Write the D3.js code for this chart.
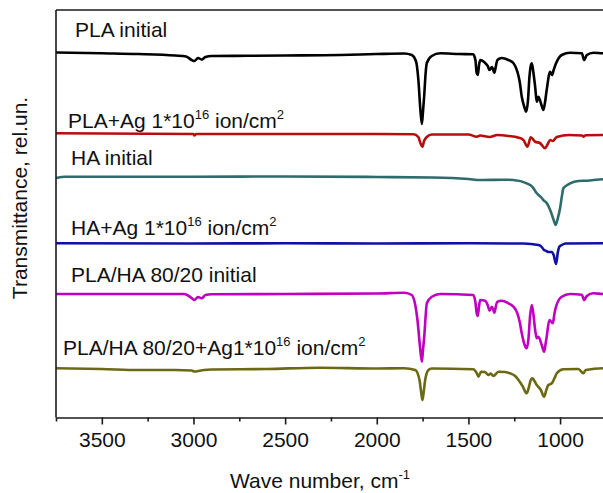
<!DOCTYPE html>
<html>
<head>
<meta charset="utf-8">
<script src="https://cdn.jsdelivr.net/npm/d3@7"></script>
<style>
  html, body { margin: 0; padding: 0; background: #fff; }
  svg { display: block; font-family: "Liberation Sans", Arial, sans-serif; }
</style>
</head>
<body>
<svg id="chart" width="603" height="493"></svg>
<script>
// ---------- data (wave number, cm^-1 ; transmittance, rel.un., offset-stacked) ----------
const seriesNames = [
  "PLA initial",
  "PLA+Ag 1*10^16 ion/cm^2",
  "HA initial",
  "HA+Ag 1*10^16 ion/cm^2",
  "PLA/HA 80/20 initial",
  "PLA/HA 80/20+Ag1*10^16 ion/cm^2"
];
const seriesColors = ["#000000", "#b80d0d", "#2e6b6b", "#1010a6", "#c000c0", "#6b6a12"];

const plaInitial = [
  [3750,8.957],[3500,8.937],[3300,8.920],[3100,8.883],[3040,8.859],[3010,8.773],[2995,8.748],
  [2975,8.822],[2955,8.785],[2935,8.847],[2900,8.871],[2700,8.876],[2500,8.883],[2200,8.896],
  [2000,8.920],[1850,8.933],[1809,8.896],[1785,8.724],[1773,8.282],[1762,7.546],[1754,7.202],
  [1748,7.497],[1741,7.914],[1733,8.478],[1727,8.699],[1700,8.871],[1654,8.937],[1550,8.920],
  [1474,8.913],[1462,8.773],[1455,8.454],[1449,8.405],[1442,8.650],[1436,8.773],[1414,8.724],
  [1395,8.626],[1385,8.528],[1372,8.601],[1358,8.461],[1350,8.626],[1342,8.773],[1318,8.822],
  [1282,8.773],[1255,8.699],[1233,8.486],[1220,8.233],[1209,7.872],[1195,7.620],[1185,7.504],
  [1175,7.791],[1167,8.363],[1160,8.626],[1154,8.692],[1146,8.479],[1136,8.118],[1127,7.750],
  [1122,7.816],[1118,7.872],[1105,7.718],[1091,7.546],[1082,7.742],[1073,8.037],[1054,8.486],
  [1044,8.405],[1035,8.528],[1022,8.692],[991,8.896],[945,8.952],[881,8.937],[869,8.773],
  [854,8.896],[818,8.952],[765,8.937],[700,8.937]
];
const plaAg = [
  [3750,6.974],[3000,6.957],[2995,6.920],[2985,6.957],[2500,6.957],[2000,6.957],[1800,6.950],
  [1773,6.883],[1762,6.736],[1751,6.645],[1742,6.785],[1727,6.883],[1700,6.945],[1500,6.945],
  [1454,6.891],[1436,6.920],[1385,6.883],[1342,6.933],[1280,6.908],[1230,6.871],[1200,6.810],
  [1178,6.645],[1160,6.876],[1136,6.767],[1110,6.736],[1082,6.606],[1070,6.687],[1054,6.810],
  [1040,6.785],[1018,6.883],[950,6.933],[880,6.920],[873,6.891],[860,6.925],[765,6.933],[700,6.933]
];
const haInitial = [
  [3750,5.877],[3700,5.909],[3000,5.909],[2500,5.914],[2000,5.902],[1700,5.890],[1500,5.853],
  [1436,5.828],[1300,5.836],[1255,5.828],[1182,5.747],[1150,5.656],[1127,5.502],[1100,5.387],
  [1091,5.337],[1073,5.264],[1050,5.043],[1035,4.847],[1024,4.724],[1012,4.896],[1000,5.134],
  [990,5.436],[982,5.625],[960,5.706],[945,5.747],[900,5.804],[854,5.811],[765,5.845],[700,5.845]
];
const haAg = [
  [3750,4.275],[3000,4.270],[2500,4.275],[2000,4.270],[1500,4.275],[1200,4.270],[1118,4.233],
  [1100,4.184],[1091,4.128],[1075,4.086],[1064,4.061],[1045,4.061],[1035,3.988],[1022,3.767],
  [1012,4.061],[1004,4.191],[991,4.233],[970,4.270],[765,4.275],[700,4.275]
];
const plaHaInitial = [
  [3750,3.031],[3300,3.031],[3050,3.031],[3010,2.933],[2995,2.883],[2975,2.957],[2955,2.925],
  [2935,3.006],[2900,3.023],[2500,3.031],[2000,3.043],[1850,3.063],[1809,3.006],[1790,2.761],
  [1778,2.393],[1765,1.779],[1754,1.370],[1748,1.656],[1741,1.983],[1733,2.515],[1727,2.802],
  [1700,2.964],[1654,3.031],[1474,3.006],[1462,2.834],[1455,2.564],[1449,2.491],[1442,2.736],
  [1436,2.883],[1409,2.866],[1395,2.761],[1385,2.621],[1372,2.719],[1358,2.572],[1350,2.736],
  [1342,2.842],[1318,2.866],[1282,2.802],[1255,2.719],[1233,2.557],[1220,2.344],[1209,2.066],
  [1195,1.804],[1182,1.698],[1172,1.951],[1164,2.474],[1154,2.761],[1145,2.515],[1136,2.147],
  [1127,1.944],[1118,1.983],[1100,1.779],[1087,1.615],[1080,1.779],[1073,1.983],[1058,2.393],
  [1040,2.312],[1030,2.564],[1022,2.719],[991,2.964],[945,3.031],[881,3.014],[869,2.883],
  [854,2.982],[818,3.048],[765,3.031],[700,3.031]
];
const plaHaAg = [
  [3750,1.207],[3500,1.190],[3300,1.166],[3100,1.166],[3010,1.153],[2995,1.129],[2960,1.153],
  [2900,1.178],[2600,1.190],[2313,1.222],[2000,1.202],[1850,1.207],[1790,1.166],[1767,0.920],
  [1758,0.626],[1751,0.429],[1744,0.626],[1736,0.920],[1718,1.166],[1700,1.202],[1474,1.183],
  [1455,1.092],[1445,1.001],[1431,1.124],[1410,1.117],[1391,1.043],[1378,1.080],[1364,1.018],
  [1336,1.124],[1300,1.117],[1273,1.085],[1245,1.018],[1227,0.920],[1205,0.773],[1182,0.594],
  [1170,0.748],[1160,0.920],[1151,0.962],[1140,0.896],[1127,0.798],[1105,0.675],[1087,0.510],
  [1075,0.675],[1064,0.798],[1045,0.839],[1030,0.969],[1018,1.085],[982,1.183],[900,1.190],
  [873,1.085],[860,1.166],[765,1.207],[700,1.207]
];
const seriesValues = [plaInitial, plaAg, haInitial, haAg, plaHaInitial, plaHaAg];

const majorTicks = [3500, 3000, 2500, 2000, 1500, 1000];
const minorTicks = [3750, 3250, 2750, 2250, 1750, 1250, 750];
const xTitle = "Wave number, cm";
const xTitleSup = "-1";
const yTitle = "Transmittance, rel.un.";

// ---------- drawing ----------
const svg = d3.select("#chart");
const padLeft = 56, padTop = 10, padBottom = 417.5;
const x = d3.scaleLinear().domain([3750, 400]).range([padLeft, padLeft + 3350 * 0.1833]);
const y = d3.scaleLinear().domain([0, 10]).range([padBottom, padTop]);

svg.append("defs").append("clipPath").attr("id", "plotclip")
  .append("rect").attr("x", padLeft).attr("y", padTop).attr("width", 700).attr("height", padBottom - padTop);

const line = d3.line()
  .x(d => x(d[0]))
  .y(d => y(d[1]))
  .curve(d3.curveMonotoneX);

const g = svg.append("g").attr("clip-path", "url(#plotclip)");
seriesValues.forEach((vals, i) => {
  const sorted = vals.slice().sort((a, b) => b[0] - a[0]);
  g.append("path")
    .datum(sorted)
    .attr("d", line)
    .attr("fill", "none")
    .attr("stroke", seriesColors[i])
    .attr("stroke-width", 2.6)
    .attr("stroke-linejoin", "round");
});

// frame (left + top)
svg.append("line").attr("x1", x(3750)).attr("x2", x(3750)).attr("y1", y(10)).attr("y2", y(0))
  .attr("stroke", "#1a1a1a").attr("stroke-width", 1.6);
svg.append("line").attr("x1", x(3750)).attr("x2", x(400)).attr("y1", y(10)).attr("y2", y(10))
  .attr("stroke", "#1a1a1a").attr("stroke-width", 1.6);

// bottom axis
const ax = svg.append("g").attr("transform", `translate(0,${padBottom})`)
  .call(d3.axisBottom(x).tickValues(majorTicks).tickSize(7).tickSizeOuter(0).tickPadding(8)
    .tickFormat(d3.format("d")));
ax.select(".domain").attr("stroke", "#1a1a1a").attr("stroke-width", 1.6);
ax.selectAll(".tick line").attr("stroke", "#1a1a1a").attr("stroke-width", 1.6);
ax.selectAll(".tick text").attr("font-size", 21).attr("fill", "#111")
  .attr("font-family", "Liberation Sans, Arial, sans-serif");

const axm = svg.append("g").attr("transform", `translate(0,${padBottom})`)
  .call(d3.axisBottom(x).tickValues(minorTicks).tickSize(4).tickSizeOuter(0).tickFormat(""));
axm.select(".domain").remove();
axm.selectAll(".tick line").attr("stroke", "#1a1a1a").attr("stroke-width", 1.6);

// series labels
const labelPos = [[75, 37], [68, 128], [71, 165], [71, 235], [71, 282], [63, 355]];
seriesNames.forEach((name, i) => {
  const parts = name.split(/\^(\d+)/); // normal, sup, normal, sup...
  const t = svg.append("text")
    .attr("x", labelPos[i][0]).attr("y", labelPos[i][1])
    .attr("font-size", 21).attr("fill", "#111");
  parts.forEach((p, k) => {
    if (k % 2 === 0) {
      t.append("tspan").attr("dy", k === 0 ? 0 : 9).text(p);
    } else {
      t.append("tspan").attr("dy", -9).attr("font-size", 13).text(p);
    }
  });
});

// axis titles
const xt = svg.append("text").attr("x", 230).attr("y", 488).attr("font-size", 21).attr("fill", "#111");
xt.append("tspan").text(xTitle);
xt.append("tspan").attr("dy", -9).attr("font-size", 13).text(xTitleSup);

svg.append("text")
  .attr("transform", "translate(27,198) rotate(-90)")
  .attr("text-anchor", "middle")
  .attr("font-size", 21).attr("fill", "#111")
  .text(yTitle);
</script>
</body>
</html>
